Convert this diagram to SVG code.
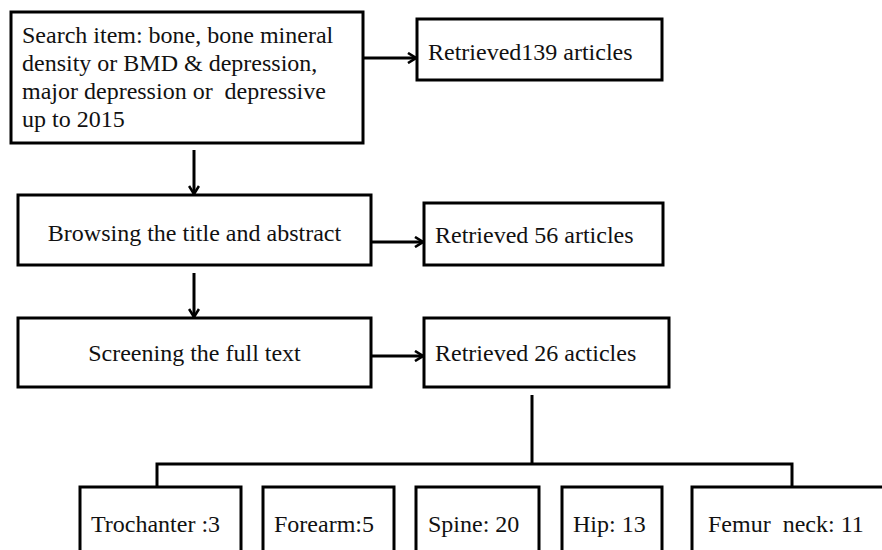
<svg xmlns="http://www.w3.org/2000/svg" width="882" height="550" viewBox="0 0 882 550">
<defs>
<style>
.box{fill:#fff;stroke:#000;stroke-width:3}
.t{font-family:"Liberation Serif","Times New Roman",serif;font-size:24px;fill:#111;white-space:pre}
.c{text-anchor:middle}
.ln{fill:none;stroke:#000;stroke-width:3}
</style>
<marker id="ah" viewBox="0 0 10 12" refX="9" refY="6" markerWidth="10" markerHeight="12" markerUnits="userSpaceOnUse" orient="auto">
<path d="M1,1 L9,6 L1,11" fill="none" stroke="#000" stroke-width="2.6"/>
</marker>
</defs>
<rect width="882" height="550" fill="#fff"/>
<g id="connectors">
<line class="ln" x1="363" y1="58" x2="416" y2="58" marker-end="url(#ah)"/>
<line class="ln" x1="194" y1="150" x2="194" y2="194" marker-end="url(#ah)"/>
<line class="ln" x1="371" y1="242" x2="423" y2="242" marker-end="url(#ah)"/>
<line class="ln" x1="194" y1="273" x2="194" y2="317" marker-end="url(#ah)"/>
<line class="ln" x1="371" y1="356" x2="423" y2="356" marker-end="url(#ah)"/>
<line class="ln" x1="532" y1="395" x2="532" y2="464"/>
<polyline class="ln" points="157,487 157,464 792,464 792,487"/>
</g>
<g id="search">
<rect class="box" x="11" y="12" width="352" height="131"/>
<text class="t" x="22" y="43">Search item: bone, bone mineral</text>
<text class="t" x="22" y="71">density or BMD &amp; depression,</text>
<text class="t" x="22" y="99">major depression or  depressive</text>
<text class="t" x="22" y="127">up to 2015</text>
</g>
<g id="ret139">
<rect class="box" x="417" y="19" width="245" height="61"/>
<text class="t" x="428" y="60">Retrieved139 articles</text>
</g>
<g id="browse">
<rect class="box" x="18" y="195" width="353" height="70"/>
<text class="t c" x="194.5" y="241">Browsing the title and abstract</text>
</g>
<g id="ret56">
<rect class="box" x="424" y="203" width="239" height="62"/>
<text class="t" x="435" y="243">Retrieved 56 articles</text>
</g>
<g id="screen">
<rect class="box" x="18" y="318" width="353" height="69"/>
<text class="t c" x="194.5" y="361">Screening the full text</text>
</g>
<g id="ret26">
<rect class="box" x="424" y="318" width="245" height="69"/>
<text class="t" x="435" y="361">Retrieved 26 acticles</text>
</g>
<g id="trochanter">
<rect class="box" x="80" y="487" width="161" height="80"/>
<text class="t" x="91" y="532">Trochanter :3</text>
</g>
<g id="forearm">
<rect class="box" x="263" y="487" width="131" height="80"/>
<text class="t" x="274" y="532">Forearm:5</text>
</g>
<g id="spine">
<rect class="box" x="416" y="487" width="123" height="80"/>
<text class="t" x="428" y="532">Spine: 20</text>
</g>
<g id="hip">
<rect class="box" x="562" y="487" width="100" height="80"/>
<text class="t" x="573" y="532">Hip: 13</text>
</g>
<g id="femur">
<rect class="box" x="692" y="487" width="220" height="80"/>
<text class="t" x="708" y="532">Femur  neck: 11</text>
</g>
</svg>
